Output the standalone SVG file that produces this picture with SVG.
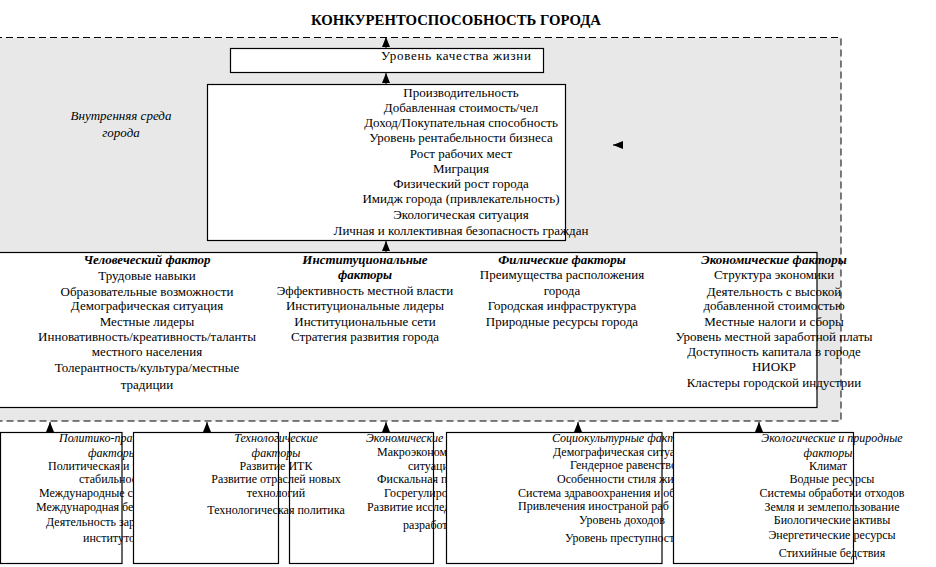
<svg xmlns="http://www.w3.org/2000/svg" width="936" height="567" viewBox="0 0 936 567">
<style>
text{font-family:"Liberation Serif","Times New Roman",serif;fill:#000}
.t{font-size:13px}
.m{text-anchor:middle}
.h{font-weight:bold;font-style:italic}
.i{font-style:italic}
.s{font-size:12px}
.box{fill:#fff;stroke:#000;stroke-width:1.2}
.con{stroke:#000;stroke-width:1;fill:none;marker-end:url(#ah)}
</style>
<defs>
<marker id="ah" viewBox="0 0 10 8" refX="10" refY="4" markerWidth="10" markerHeight="8" markerUnits="userSpaceOnUse" orient="auto"><path d="M0,0 L10,4 L0,8 z" fill="#000"/></marker>
</defs>
<rect width="936" height="567" fill="#fff"/>
<g id="title"><text x="456" y="25" class="m" font-size="14" font-weight="bold" textLength="290" lengthAdjust="spacingAndGlyphs">КОНКУРЕНТОСПОСОБНОСТЬ ГОРОДА</text></g>
<g id="inner-env">
<rect x="-5" y="37.5" width="846" height="383.5" fill="#e8e8e8" stroke="#000" stroke-width="1" stroke-dasharray="7,4"/>
<text x="121" y="120" class="t m i">Внутренняя среда</text>
<text x="121" y="137" class="t m i">города</text>
</g>
<g id="quality">
<rect x="230.5" y="48.5" width="313" height="24" class="box"/>
<text x="456" y="60" class="t m" textLength="150" lengthAdjust="spacing">Уровень качества жизни</text>
</g>
<g id="indicators">
<rect x="207.5" y="84.5" width="358" height="156" class="box"/>
<text x="461" y="97" class="t m">Производительность</text>
<text x="461" y="112" class="t m">Добавленная стоимость/чел</text>
<text x="461" y="127" class="t m">Доход/Покупательная способность</text>
<text x="461" y="142" class="t m">Уровень рентабельности бизнеса</text>
<text x="461" y="158" class="t m">Рост рабочих мест</text>
<text x="461" y="173" class="t m">Миграция</text>
<text x="461" y="188" class="t m">Физический рост города</text>
<text x="461" y="203" class="t m">Имидж города (привлекательность)</text>
<text x="461" y="219" class="t m">Экологическая ситуация</text>
<text x="461" y="235" class="t m">Личная и коллективная безопасность граждан</text>
</g>
<g id="factors">
<rect x="-5" y="252.5" width="822" height="155" class="box"/>
<text x="147" y="264" class="t m h">Человеческий фактор</text>
<text x="147" y="280" class="t m">Трудовые навыки</text>
<text x="147" y="296" class="t m">Образовательные возможности</text>
<text x="147" y="310" class="t m">Демографическая ситуация</text>
<text x="147" y="326" class="t m">Местные лидеры</text>
<text x="147" y="341" class="t m">Инновативность/креативность/таланты</text>
<text x="147" y="356" class="t m">местного населения</text>
<text x="147" y="372" class="t m">Толерантность/культура/местные</text>
<text x="147" y="389" class="t m">традиции</text>
<text x="365" y="264" class="t m h">Институциональные</text>
<text x="365" y="279" class="t m h">факторы</text>
<text x="365" y="295" class="t m">Эффективность местной власти</text>
<text x="365" y="310" class="t m">Институциональные лидеры</text>
<text x="365" y="326" class="t m">Институциональные сети</text>
<text x="365" y="341" class="t m">Стратегия развития города</text>
<text x="562" y="264" class="t m h">Филические факторы</text>
<text x="562" y="279" class="t m">Преимущества расположения</text>
<text x="562" y="295" class="t m">города</text>
<text x="562" y="310" class="t m">Городская инфраструктура</text>
<text x="562" y="326" class="t m">Природные ресурсы города</text>
<text x="774" y="264" class="t m h">Экономические факторы</text>
<text x="774" y="279" class="t m">Структура экономики</text>
<text x="774" y="296" class="t m">Деятельность с высокой</text>
<text x="774" y="310" class="t m">добавленной стоимостью</text>
<text x="774" y="326" class="t m">Местные налоги и сборы</text>
<text x="774" y="341" class="t m">Уровень местной заработной платы</text>
<text x="774" y="356" class="t m">Доступность капитала в городе</text>
<text x="774" y="371" class="t m">НИОКР</text>
<text x="774" y="387" class="t m">Кластеры городской индустрии</text>
</g>
<g id="political">
<rect x="0.5" y="432.5" width="121.5" height="131" class="box"/>
<text x="59" y="442" class="s i">Политико-пра</text>
<text x="88" y="457" class="s i">факторы</text>
<text x="48" y="470" class="s">Политическая и э</text>
<text x="79" y="483" class="s">стабильность</text>
<text x="39" y="497" class="s">Международные св</text>
<text x="36" y="511" class="s">Международная без</text>
<text x="46" y="526" class="s">Деятельность зар</text>
<text x="83" y="542" class="s">институтов</text>
</g>
<g id="economic-ext">
<rect x="289.5" y="432.5" width="144" height="131" class="box"/>
<text x="366" y="442" class="s i">Экономические ф</text>
<text x="377" y="456" class="s">Макроэкономи</text>
<text x="408" y="470" class="s">ситуаци</text>
<text x="377" y="483" class="s">Фискальная по</text>
<text x="384" y="497" class="s">Госрегулиров</text>
<text x="367" y="511" class="s">Развитие исслед</text>
<text x="403" y="529" class="s">разработ</text>
</g>
<g id="technological">
<rect x="133.5" y="432.5" width="145" height="131" class="box"/>
<text x="276" y="442" class="s m i">Технологические</text>
<text x="276" y="457" class="s m i">факторы</text>
<text x="276" y="470" class="s m">Развитие ИТК</text>
<text x="276" y="483" class="s m">Развитие отраслей новых</text>
<text x="276" y="497" class="s m">технологий</text>
<text x="276" y="514" class="s m">Технологическая политика</text>
</g>
<g id="sociocultural">
<rect x="446.5" y="432.5" width="215.5" height="131" class="box"/>
<text x="552" y="442" class="s i">Социокультурные факт</text>
<text x="553" y="456" class="s">Демографическая ситуа</text>
<text x="570" y="469" class="s">Гендерное равенство</text>
<text x="557" y="483" class="s">Особенности стиля жиз</text>
<text x="518" y="497" class="s">Система здравоохранения и обр</text>
<text x="518" y="510" class="s">Привлечения иностраной раб</text>
<text x="579" y="524" class="s">Уровень доходов</text>
<text x="565" y="542" class="s">Уровень преступност</text>
</g>
<g id="ecological">
<rect x="673.5" y="432.5" width="180" height="131" class="box"/>
<text x="832" y="442" class="s m i">Экологические и природные</text>
<text x="828" y="457" class="s m i">факторы</text>
<text x="828" y="470" class="s m">Климат</text>
<text x="832" y="483" class="s m">Водные ресурсы</text>
<text x="832" y="497" class="s m">Системы обработки отходов</text>
<text x="832" y="511" class="s m">Земля и землепользование</text>
<text x="832" y="524" class="s m">Биологические активы</text>
<text x="832" y="539" class="s m">Энергетические ресурсы</text>
<text x="832" y="557" class="s m">Стихийные бедствия</text>
</g>
<g id="connectors">
<line x1="386" y1="48" x2="386" y2="37" class="con"/>
<line x1="386" y1="84" x2="386" y2="73" class="con"/>
<line x1="386" y1="252" x2="386" y2="241" class="con"/>
<line x1="622" y1="145" x2="613" y2="145" class="con"/>
<line x1="50" y1="432" x2="50" y2="422" class="con"/>
<line x1="207" y1="432" x2="207" y2="422" class="con"/>
<line x1="386" y1="432" x2="386" y2="422" class="con"/>
<line x1="578" y1="432" x2="578" y2="422" class="con"/>
<line x1="759" y1="432" x2="759" y2="422" class="con"/>
</g>
</svg>
